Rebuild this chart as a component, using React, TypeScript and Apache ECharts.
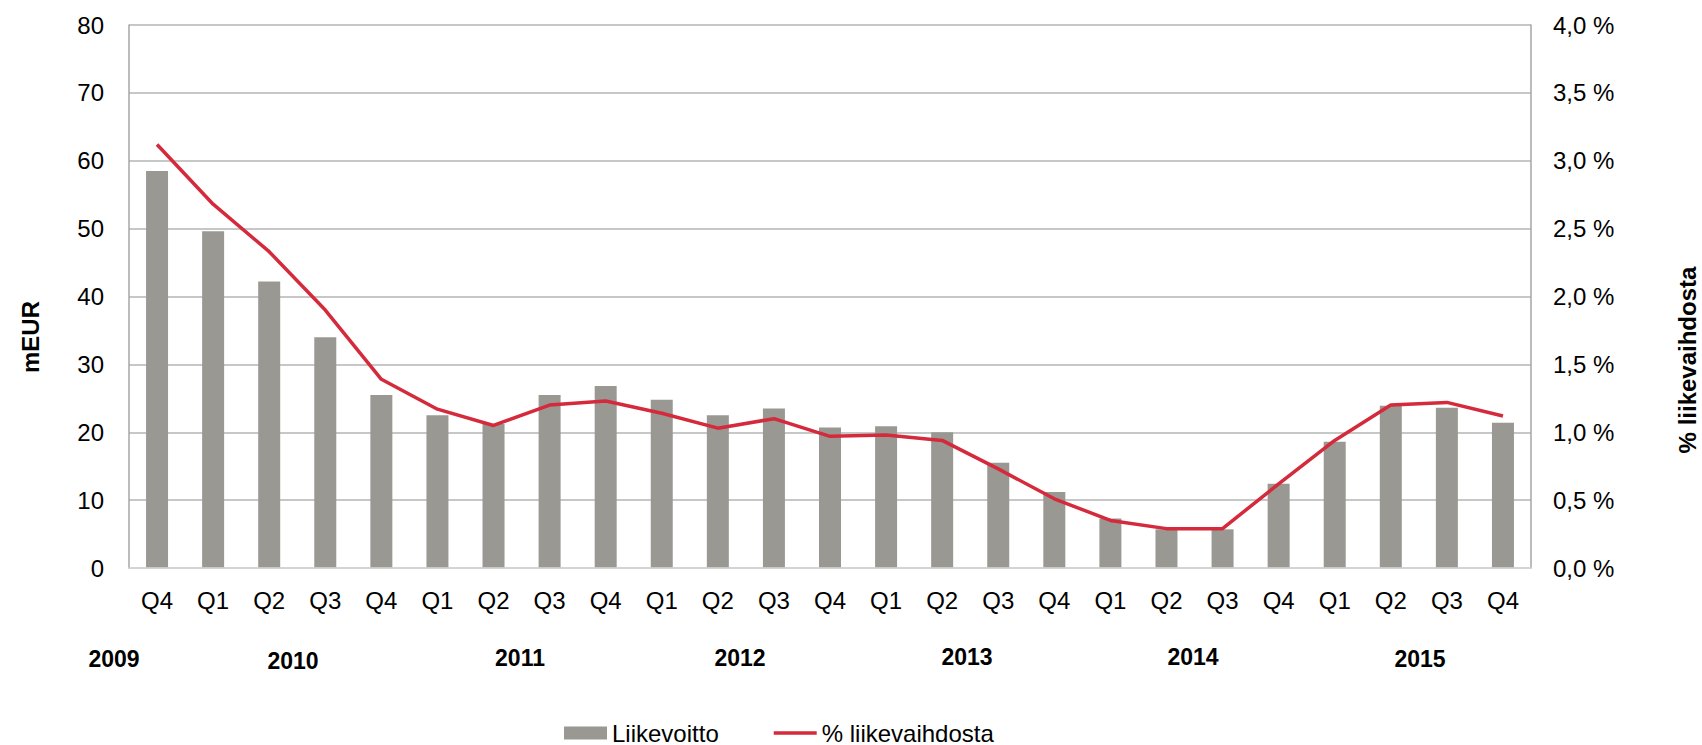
import React, { useEffect, useRef } from "react";
import * as echarts from "echarts";

const quarters = ["Q4", "Q1", "Q2", "Q3", "Q4", "Q1", "Q2", "Q3", "Q4", "Q1", "Q2", "Q3", "Q4", "Q1", "Q2", "Q3", "Q4", "Q1", "Q2", "Q3", "Q4", "Q1", "Q2", "Q3", "Q4"];
const liikevoitto = [58.5, 49.6, 42.2, 34.0, 25.5, 22.5, 21.2, 25.5, 26.8, 24.8, 22.5, 23.5, 20.7, 20.9, 20.0, 15.5, 11.2, 7.3, 5.7, 5.7, 12.4, 18.6, 23.9, 23.6, 21.4];
const liikevaihdosta = [3.12, 2.68, 2.33, 1.90, 1.39, 1.17, 1.05, 1.20, 1.23, 1.14, 1.03, 1.10, 0.97, 0.98, 0.94, 0.73, 0.51, 0.35, 0.29, 0.29, 0.62, 0.94, 1.20, 1.22, 1.12];
const years = ["2009", "2010", "2011", "2012", "2013", "2014", "2015"];
const yearLabelX = [114, 293, 520, 740, 967, 1193, 1420];
const yearLabelY = [659, 661, 658, 658, 657, 657, 659];

const FONT = "'Liberation Sans', Arial, Helvetica, sans-serif";

export default function App() {
  const ref = useRef<HTMLDivElement>(null);
  useEffect(() => {
    document.body.style.margin = "0";
    const chart = echarts.init(ref.current!, undefined, { renderer: "svg" });
    const option: any = {
      animation: false,
      backgroundColor: "#ffffff",
      textStyle: { fontFamily: FONT },
      grid: { left: 129, right: 171, top: 25, bottom: 177, containLabel: false },
      legend: {
        left: 559,
        top: 716,
        itemWidth: 43,
        itemHeight: 13,
        itemGap: 55,
        textStyle: { fontSize: 24, color: "#000", fontFamily: FONT },
        data: [
          { name: "Liikevoitto", icon: "rect" },
          { name: "% liikevaihdosta", icon: "path://M0,0L43,0L43,3.5L0,3.5Z" },
        ],
      },
      xAxis: {
        type: "category",
        data: quarters,
        axisTick: { show: false },
        axisLine: { show: true, lineStyle: { color: "#d9d9d9", width: 1.5 } },
        axisLabel: { fontSize: 24, color: "#000", margin: 20, fontFamily: FONT, interval: 0 },
        z: 5,
      },
      yAxis: [
        {
          type: "value",
          min: 0,
          max: 80,
          interval: 10,
          axisLine: { show: true, lineStyle: { color: "#a6a6a6", width: 1.5 } },
          axisTick: { show: false },
          splitLine: { show: true, lineStyle: { color: "#b4b4b4", width: 1.5 } },
          axisLabel: { fontSize: 24, color: "#000", margin: 25, fontFamily: FONT },
        },
        {
          type: "value",
          min: 0,
          max: 4,
          interval: 0.5,
          position: "right",
          axisLine: { show: true, lineStyle: { color: "#a6a6a6", width: 1.5 } },
          axisTick: { show: false },
          splitLine: { show: false },
          axisLabel: {
            fontSize: 24,
            color: "#000",
            margin: 22,
            fontFamily: FONT,
            formatter: (v: number) => v.toFixed(1).replace(".", ",") + " %",
          },
        },
      ],
      series: [
        {
          name: "Liikevoitto",
          type: "bar",
          data: liikevoitto,
          yAxisIndex: 0,
          barWidth: 22,
          itemStyle: { color: "#999893" },
        },
        {
          name: "% liikevaihdosta",
          type: "line",
          data: liikevaihdosta,
          yAxisIndex: 1,
          symbol: "none",
          lineStyle: { color: "#d42a3c", width: 3.5 },
          itemStyle: { color: "#d42a3c" },
        },
      ],
      graphic: [
        {
          type: "text",
          x: 30,
          y: 337,
          rotation: Math.PI / 2,
          style: { text: "mEUR", font: `bold 24px ${FONT}`, fill: "#000", align: "center", verticalAlign: "middle" },
        },
        {
          type: "text",
          x: 1687,
          y: 360,
          rotation: Math.PI / 2,
          style: { text: "% liikevaihdosta", font: `bold 24px ${FONT}`, fill: "#000", align: "center", verticalAlign: "middle" },
        },
        ...years.map((y, i) => ({
          type: "text",
          x: yearLabelX[i],
          y: yearLabelY[i],
          style: { text: y, font: `bold 23px ${FONT}`, fill: "#000", align: "center", verticalAlign: "middle" },
        })),
      ],
    };
    chart.setOption(option);
    return () => chart.dispose();
  }, []);
  return <div ref={ref} style={{ width: 1702, height: 745 }} />;
}
